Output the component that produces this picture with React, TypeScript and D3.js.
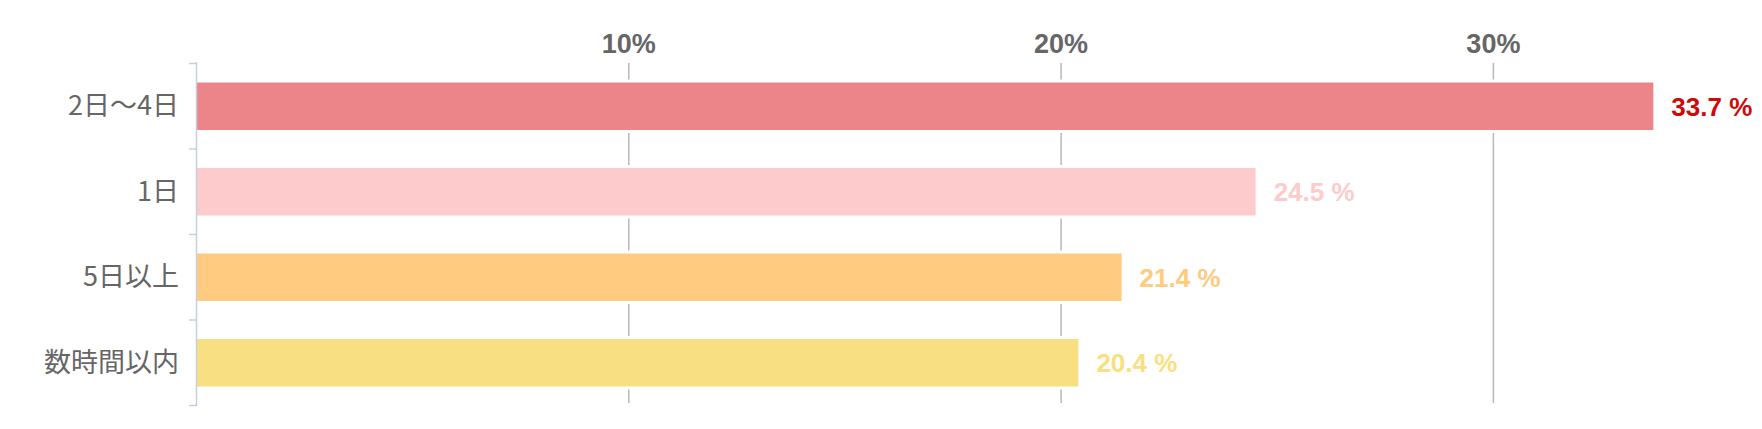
import React from "react";
import * as d3 from "d3";

const categories = ["2日〜4日", "1日", "5日以上", "数時間以内"];
const values = [33.7, 24.5, 21.4, 20.4];
const barColors = ["#EB858A", "#FDCBCB", "#FECB80", "#F8DF82"];
const labelColors = ["#CC0A0A", "#FDCBCB", "#FECB80", "#F8DF82"];
const tickValues = [10, 20, 30];

const W = 1762;
const H = 429;

export default function App() {
  const x = d3.scaleLinear().domain([0, 10]).range([196.5, 628.8]);
  const y = d3.scaleBand<string>().domain(categories).range([63.5, 405.5]).paddingInner(0.445).paddingOuter(0.2225);
  const band = d3.scaleBand<string>().domain(categories).range([63.5, 405.5]);
  const axisX = x(0);
  const numFont = "'Liberation Sans', Arial, sans-serif";
  const cjkFont = "'Noto Sans CJK JP', 'Noto Sans', sans-serif";
  return (
    <svg width={W} height={H} style={{ position: "absolute", left: 0, top: 0, background: "#fff" }}>
      {tickValues.map((t) => (
        <g key={t}>
          <line x1={x(t)} x2={x(t)} y1={63} y2={403} stroke="#b8b8b8" strokeWidth={1.5} />
          <text x={x(t)} y={52.5} textAnchor="middle" fontFamily={numFont} fontWeight={700} fontSize={27} fill="#666">
            {t}%
          </text>
        </g>
      ))}
      {categories.map((c, i) => {
        const by = y(c)!;
        const bh = y.bandwidth();
        return (
          <g key={c}>
            <rect x={axisX} y={by - 3} width={x(values[i]) - axisX} height={bh + 6} fill="#fff" />
            <rect x={axisX} y={by} width={x(values[i]) - axisX} height={bh} fill={barColors[i]} />
            <text
              x={x(values[i]) + 18}
              y={by + bh / 2 + 9.5}
              fontFamily={numFont}
              fontWeight={700}
              fontSize={26}
              fill={labelColors[i]}
            >
              {values[i].toFixed(1)} %
            </text>
            <text
              x={179}
              y={band(c)! + band.bandwidth() / 2 + 9}
              textAnchor="end"
              fontFamily={cjkFont}
              fontSize={27}
              fill="#666"
            >
              {c}
            </text>
          </g>
        );
      })}
      <line x1={axisX} x2={axisX} y1={62} y2={406} stroke="#c3d0e0" strokeWidth={1.5} />
      {band.domain().map((c) => (
        <line key={"t" + c} x1={189} x2={axisX} y1={band(c)!} y2={band(c)!} stroke="#c3d0e0" strokeWidth={1.5} />
      ))}
      <line x1={189} x2={axisX} y1={405.5} y2={405.5} stroke="#c3d0e0" strokeWidth={1.5} />
    </svg>
  );
}
